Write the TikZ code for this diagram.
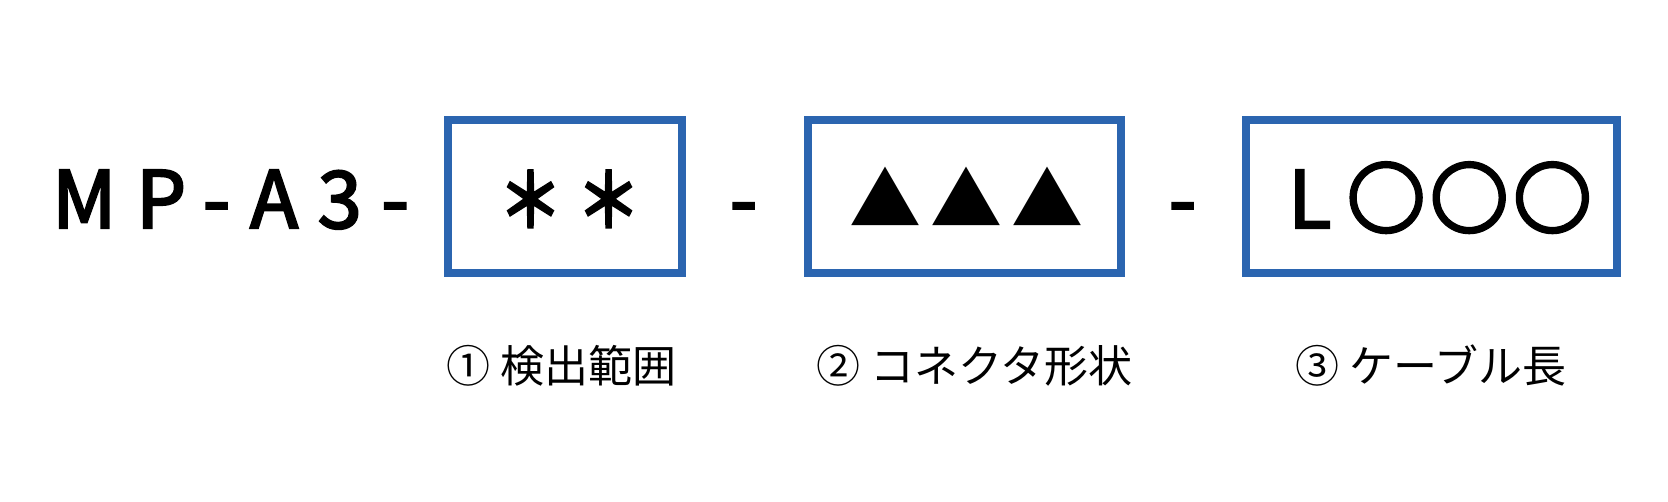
\documentclass[tikz,border=0pt]{standalone}
\usepackage{fontspec}
\setmainfont{Noto Sans CJK JP}
\definecolor{boxblue}{HTML}{2B65B0}
\tikzset{
  slot/.style={draw=boxblue, line width=8.5pt},
  code/.style={anchor=base, inner sep=0pt, font=\fontsize{79}{85}\selectfont\addfontfeature{FakeBold=3}},
  lbl/.style={anchor=base west, inner sep=0pt, font=\fontsize{44}{50}\selectfont},
}
\begin{document}
\begin{tikzpicture}[x=1pt,y=-1pt]
\useasboundingbox (0,0) rectangle (1668,501);
\fill[white] (0,0) rectangle (1668,501);
\draw[slot] (448,120) rectangle (682,273);
\draw[slot] (808,120) rectangle (1121,273);
\draw[slot] (1246,120) rectangle (1617,273);
\node[code, anchor=base west] (mp) at (52,228) {\addfontfeature{LetterSpace=25}MP-A3-};
\node[code, font=\fontsize{70}{80}\selectfont\addfontfeature{FakeBold=5}] (ast) at (569.5,226.5) {\scalebox{0.9}[1.04]{\addfontfeature{LetterSpace=24}＊＊}};
\node[code] (d1) at (743.5,228) {-};
\node[code, font=\fontsize{72}{80}\selectfont\addfontfeature{LetterSpace=12.5}] (tri) at (966,226) {▲▲▲};
\node[code] (d2) at (1182.5,228) {-};
\node[code, anchor=base west] (loo) at (1288,228) {L\hspace{15pt}{\fontsize{80}{85}\selectfont\addfontfeature{FakeBold=1.5,LetterSpace=4}〇〇〇}};
\node[lbl] (l1) at (446,382) {① 検出範囲};
\node[lbl] (l2) at (816,382) {② コネクタ形状};
\node[lbl] (l3) at (1295,382) {③ ケーブル長};
\end{tikzpicture}
\end{document}
